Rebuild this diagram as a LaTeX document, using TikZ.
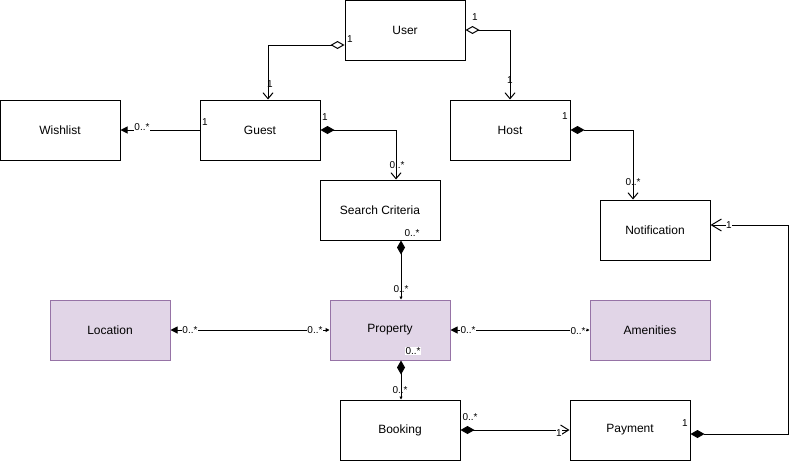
\documentclass[tikz,border=0pt]{standalone}
\usepackage{fontspec}
\setmainfont{Liberation Sans}
\usetikzlibrary{arrows.meta}
\definecolor{pfill}{HTML}{E1D5E7}
\definecolor{pdraw}{HTML}{9673A6}
\begin{document}
\begin{tikzpicture}[x=1pt,y=-1pt,
  box/.style={draw=black, line width=1pt, minimum width=120pt, minimum height=60pt, inner sep=0pt, font=\fontsize{12}{14}\selectfont},
  pbox/.style={box, draw=pdraw, fill=pfill},
  lbl/.style={font=\fontsize{10}{11}\selectfont, inner sep=0.5pt},
  wlbl/.style={lbl, fill=white},
  conn/.style={line width=1pt, black},
  agg/.style={conn, {Diamond[open,length=14pt,width=8pt]}-{Straight Barb[length=6pt,width=10pt]}},
  comp/.style={conn, {Diamond[length=14pt,width=8pt]}-{Straight Barb[length=6pt,width=10pt]}},
  compt/.style={conn, {Diamond[length=14pt,width=8pt]}-{Triangle[length=3pt,width=3pt]}},
]
\useasboundingbox (0,0) rectangle (808,461);
\node[box] (user) at (405,30) {User};
\node[box] (guest) at (260,130) {Guest};
\node[box] (wishlist) at (60,130) {Wishlist};
\node[box] (host) at (510,130) {Host};
\node[box] (search) at (380,210) {Search Criteria};
\node[box, minimum width=110pt] (notif) at (655,230) {Notification};
\node[pbox] (location) at (110,330) {Location};
\node[pbox] (property) at (390,330) {Property};
\node[pbox] (amenities) at (650,330) {Amenities};
\node[box] (booking) at (400,430) {Booking};
\node[box] (payment) at (630,430) {Payment};

% connectors
\draw[agg] ([yshift=-15pt]user.west) -| ([xshift=8pt]guest.north);
\draw[agg] (user.east) -| (host.north);
\draw[conn, -{Triangle[length=7pt,width=7pt]}] (guest.west) -- (wishlist.east);
\draw[comp] (guest.east) -| ([xshift=16pt]search.north);
\draw[comp] (host.east) -| ([xshift=-22pt]notif.north);
\draw[compt] ([xshift=21pt]search.south) -- ([xshift=11pt]property.north);
\draw[conn, {Triangle[length=4pt,width=4pt]}-{Triangle[length=7pt,width=7pt]}] (property.west) -- (location.east);
\draw[conn, {Triangle[length=7pt,width=7pt]}-{Triangle[length=3pt,width=3pt]}] (property.east) -- (amenities.west);
\draw[compt] ([xshift=11pt]property.south) -- ([xshift=1pt]booking.north);
\draw[conn, {Diamond[length=14pt,width=8pt]}-{Straight Barb[length=8pt,width=10pt]}] (booking.east) -- (payment.west);
\coordinate (pc) at (788,434);
\draw[conn, {Diamond[length=14pt,width=8pt]}-{Straight Barb[length=10pt,width=12pt]}] ([yshift=-4pt]payment.east) -- (pc) |- ([yshift=5pt]notif.east);

% labels
\node[lbl] (l1) at (350,39) {1};
\node[lbl] (l2) at (270,84) {1};
\node[lbl] (l3) at (475,17) {1};
\node[lbl] (l4) at (510,80) {1};
\node[lbl] (l5) at (205,122) {1};
\node[wlbl] (l6) at (142,127) {0..*};
\node[lbl] (l7) at (325,117) {1};
\node[lbl] (l8) at (397,165) {0..*};
\node[lbl] (l9) at (565,116) {1};
\node[lbl] (l10) at (633,182) {0..*};
\node[wlbl] (l11) at (412,233) {0..*};
\node[lbl] (l12) at (401,289) {0..*};
\node[wlbl] (l13) at (190,330) {0..*};
\node[wlbl] (l14) at (315,330) {0..*};
\node[wlbl] (l15) at (468,330) {0..*};
\node[wlbl] (l16) at (578,331) {0..*};
\node[wlbl] (l17) at (413,351) {0..*};
\node[lbl] (l18) at (400,390) {0..*};
\node[lbl] (l19) at (470,417) {0..*};
\node[wlbl] (l20) at (559,433) {1};
\node[wlbl] (l21) at (729,225) {1};
\node[lbl] (l22) at (685,423) {1};
\end{tikzpicture}
\end{document}
